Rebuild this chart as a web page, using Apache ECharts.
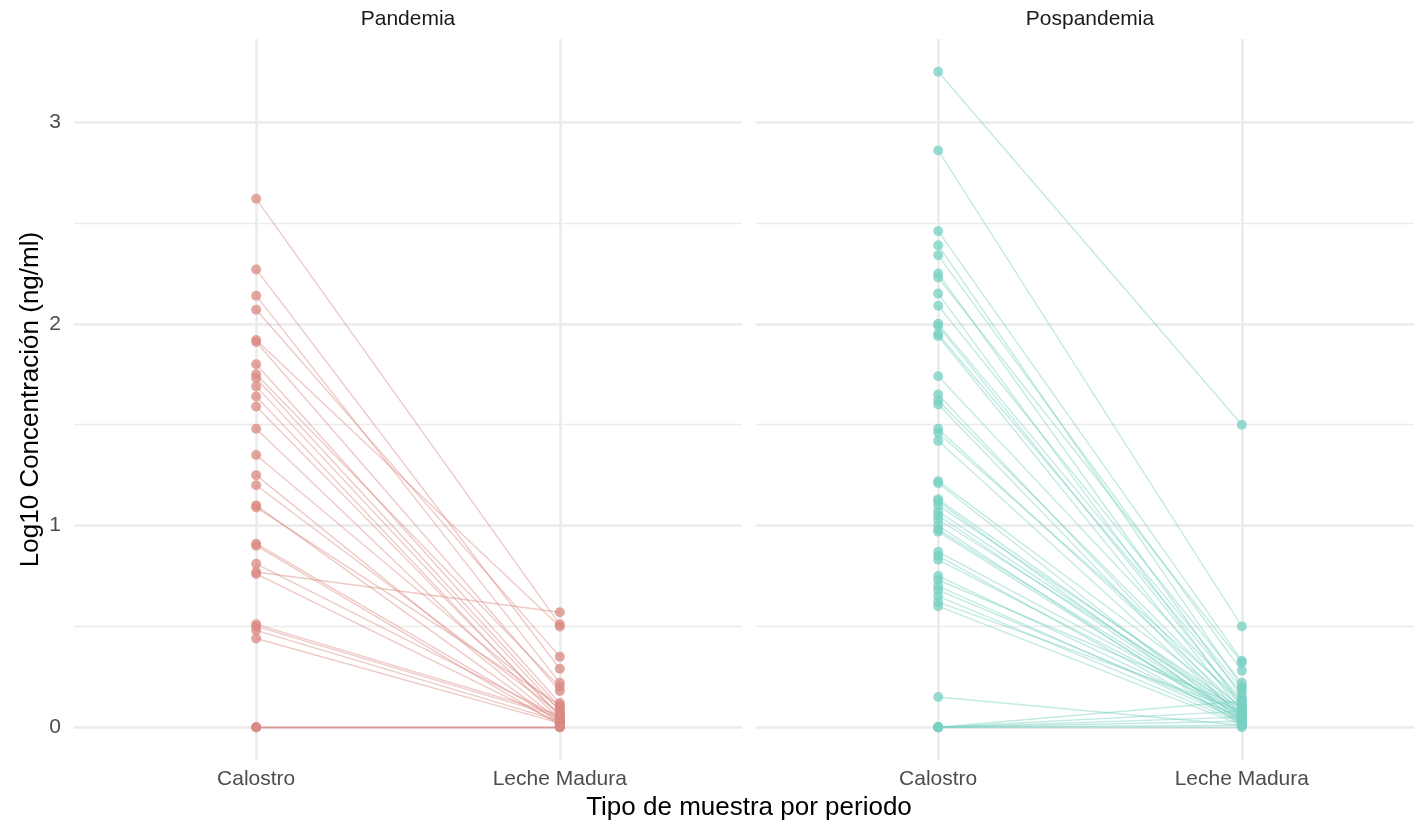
<!DOCTYPE html>
<html>
<head>
<meta charset="utf-8">
<script src="https://cdn.jsdelivr.net/npm/echarts@6/dist/echarts.min.js"></script>
<style>
html,body{margin:0;padding:0;background:#fff;overflow:hidden;width:1414px;height:826px;}
#chart{width:1440px;height:826px;}
</style>
</head>
<body>
<div id="chart"></div>
<script>
// ---- data ----
const categories = ['Calostro', 'Leche Madura'];
const periods = ['Pandemia', 'Pospandemia'];
const yTicks = [0, 1, 2, 3];
const yMinorTicks = [0.5, 1.5, 2.5];
const xTicks = [1, 2];

const pandemiaCalostro = [2.62, 2.27, 2.14, 2.07, 1.92, 1.91, 1.80, 1.75, 1.73, 1.69, 1.64, 1.59, 1.48, 1.35, 1.25, 1.20, 1.10, 1.09, 0.91, 0.90, 0.81, 0.77, 0.76, 0.51, 0.50, 0.48, 0.44, 0, 0, 0];
const pandemiaLeche    = [0.51, 0.29, 0.22, 0.35, 0.50, 0.18, 0.12, 0.20, 0.10, 0.08, 0.05, 0.06, 0.04, 0.09, 0.03, 0.07, 0.02, 0.11, 0.03, 0.01, 0.05, 0.57, 0.02, 0.06, 0.05, 0.03, 0.02, 0, 0, 0];

const pospandemiaCalostro = [3.25, 2.86, 2.46, 2.39, 2.34, 2.25, 2.23, 2.15, 2.09, 2.00, 1.99, 1.95, 1.94, 1.74, 1.65, 1.62, 1.60, 1.48, 1.46, 1.42, 1.22, 1.21, 1.13, 1.12, 1.10, 1.07, 1.05, 1.03, 1.00, 0.98, 0.97, 0.87, 0.85, 0.83, 0.75, 0.73, 0.70, 0.68, 0.65, 0.62, 0.60, 0.15, 0, 0, 0, 0, 0, 0];
const pospandemiaLeche    = [1.50, 0.50, 0.33, 0.20, 0.28, 0.15, 0.32, 0.10, 0.22, 0.19, 0.12, 0.17, 0.08, 0.14, 0.06, 0.11, 0.04, 0.09, 0.13, 0.05, 0.10, 0.03, 0.07, 0.02, 0.09, 0.06, 0.04, 0.08, 0.01, 0.05, 0.03, 0.07, 0.02, 0.06, 0.04, 0.10, 0.03, 0.05, 0.02, 0.08, 0.01, 0.01, 0.13, 0.08, 0.05, 0.03, 0.01, 0];

const xLabel = 'Tipo de muestra por periodo';
const yLabel = 'Log10 Concentración (ng/ml)';

// ---- styling ----
const FONT = '"Liberation Sans", Arial, Helvetica, sans-serif';
const panelColors = [
  {point: '#DA8A81', line: '#DA8A81'},
  {point: '#78D0C1', line: '#78D0C1'}
];
const gridColor = '#EBEBEB';

const allVals = pandemiaCalostro.concat(pandemiaLeche, pospandemiaCalostro, pospandemiaLeche);
const dMax = Math.max.apply(null, allVals), dMin = Math.min.apply(null, allVals);
const yMin = dMin - 0.05 * (dMax - dMin);
const yMax = dMax + 0.05 * (dMax - dMin);

const panelData = [
  [pandemiaCalostro, pandemiaLeche],
  [pospandemiaCalostro, pospandemiaLeche]
];

const grids = [
  {left: 74, top: 39, width: 668, height: 721},
  {left: 756, top: 39, width: 668, height: 721}
];

const xAxes = [], yAxes = [], series = [];
grids.forEach((g, i) => {
  xAxes.push({
    type: 'value', gridIndex: i, min: 0.4, max: 2.6,
    axisLine: {show: false},
    axisTick: {show: false, customValues: xTicks},
    axisLabel: {customValues: xTicks, formatter: v => categories[Math.round(v) - 1] || '',
      color: '#4D4D4D', fontSize: 21, fontFamily: FONT, margin: 9},
    splitLine: {show: true, lineStyle: {color: gridColor, width: 2.6}}
  });
  yAxes.push({
    type: 'value', gridIndex: i, min: yMin, max: yMax,
    axisLine: {show: false},
    axisTick: {show: false, customValues: yTicks},
    axisLabel: {show: i === 0, customValues: yTicks, color: '#4D4D4D', fontSize: 21, fontFamily: FONT, margin: 13},
    splitLine: {show: true, lineStyle: {color: gridColor, width: 2.6}},
    name: i === 0 ? yLabel : '',
    nameLocation: 'middle', nameGap: 30, nameRotate: 90,
    nameTextStyle: {color: '#000', fontSize: 26, fontFamily: FONT}
  });
  yAxes.push({
    type: 'value', gridIndex: i, min: yMin, max: yMax, position: 'left',
    axisLine: {show: false},
    axisTick: {show: false, customValues: yMinorTicks},
    axisLabel: {show: false, customValues: yMinorTicks},
    splitLine: {show: true, lineStyle: {color: gridColor, width: 1.3}}
  });

  const [cal, lec] = panelData[i];
  series.push({
    type: 'lines', coordinateSystem: 'cartesian2d', xAxisIndex: i, yAxisIndex: i * 2,
    silent: true, z: 3,
    lineStyle: {color: panelColors[i].line, opacity: 0.45, width: 1.4},
    data: cal.map((c, k) => ({coords: [[xTicks[0], c], [xTicks[1], lec[k]]]}))
  });
  series.push({
    type: 'scatter', xAxisIndex: i, yAxisIndex: i * 2, z: 4,
    symbol: 'circle', symbolSize: 10, silent: true,
    itemStyle: {color: panelColors[i].point, opacity: 0.75},
    data: cal.map(c => [xTicks[0], c]).concat(lec.map(l => [xTicks[1], l]))
  });
});

const graphics = periods.map((p, i) => ({
  type: 'text', x: grids[i].left + grids[i].width / 2, y: 19,
  style: {text: p, fill: '#1A1A1A', font: '21px ' + FONT, textAlign: 'center', textVerticalAlign: 'middle'}
}));
graphics.push({
  type: 'text', x: (grids[0].left + grids[1].left + grids[1].width) / 2, y: 808,
  style: {text: xLabel, fill: '#000', font: '26px ' + FONT, textAlign: 'center', textVerticalAlign: 'middle'}
});

const chart = echarts.init(document.getElementById('chart'), null, {renderer: 'canvas'});
chart.setOption({
  animation: false,
  backgroundColor: '#fff',
  grid: grids,
  xAxis: xAxes,
  yAxis: yAxes,
  series: series,
  graphic: graphics
});
</script>
</body>
</html>
